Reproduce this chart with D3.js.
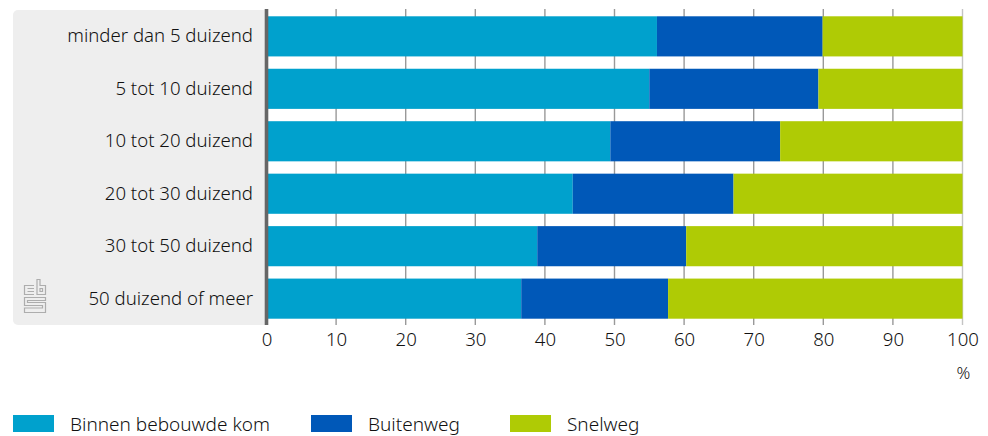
<!DOCTYPE html>
<html>
<head>
<meta charset="utf-8">
<script src="https://cdn.jsdelivr.net/npm/d3@7"></script>
<style>
  html, body { margin: 0; padding: 0; background: #fff; }
  svg { display: block; }
  text { font-family: "Noto Sans", sans-serif; font-weight: 350; fill: #111; }
</style>
</head>
<body>
<script>
const categories = ["minder dan 5 duizend", "5 tot 10 duizend", "10 tot 20 duizend", "20 tot 30 duizend", "30 tot 50 duizend", "50 duizend of meer"];
const seriesNames = ["Binnen bebouwde kom", "Buitenweg", "Snelweg"];
const binnen = [56.1, 55.0, 49.4, 44.0, 38.9, 36.6];
const buiten = [23.8, 24.3, 24.4, 23.1, 21.4, 21.1];
const snelweg = [20.1, 20.7, 26.2, 32.9, 39.7, 42.3];
const seriesColors = ["#00a1cd", "#0058b8", "#afcb05"];
const xTicks = [0, 10, 20, 30, 40, 50, 60, 70, 80, 90, 100];

const width = 988;
const height = 436;
const fontSize = 18.6;
const legendFontSize = 19;

const x = d3.scaleLinear().domain([0, 100]).range([266.5, 962.5]);
const y = d3.scaleBand().domain(categories).range([10, 325]).paddingInner(0.235).paddingOuter(0.12);

const svg = d3.select("body").append("svg")
  .attr("width", width)
  .attr("height", height)
  .attr("viewBox", `0 0 ${width} ${height}`);

// grey panel behind the category labels
svg.append("path")
  .attr("d", "M265 10H18a5 5 0 0 0 -5 5V320a5 5 0 0 0 5 5H265Z")
  .attr("fill", "#eeeeee");

// gridlines
svg.append("g")
  .selectAll("line")
  .data(xTicks.slice(1))
  .join("line")
  .attr("x1", d => x(d)).attr("x2", d => x(d))
  .attr("y1", 9).attr("y2", 325)
  .attr("stroke", d => d === 100 ? "#c4c4c4" : "#999999")
  .attr("stroke-width", 1.4);

// stacked bars
const rows = categories.map((c, i) => ({ category: c, binnen: binnen[i], buiten: buiten[i], snelweg: snelweg[i] }));
const stacked = d3.stack().keys(["binnen", "buiten", "snelweg"])(rows);

svg.append("g")
  .selectAll("g")
  .data(stacked)
  .join("g")
  .attr("fill", (d, i) => seriesColors[i])
  .selectAll("rect")
  .data(d => d)
  .join("rect")
  .attr("x", d => x(d[0]))
  .attr("y", d => y(d.data.category))
  .attr("width", d => x(d[1]) - x(d[0]))
  .attr("height", y.bandwidth());

// zero line
svg.append("line")
  .attr("x1", x(0)).attr("x2", x(0))
  .attr("y1", 9).attr("y2", 325)
  .attr("stroke", "#666666")
  .attr("stroke-width", 3.6);

// category labels
svg.append("g")
  .selectAll("text")
  .data(categories)
  .join("text")
  .attr("x", 253)
  .attr("y", d => y(d) + y.bandwidth() / 2)
  .attr("dy", "0.33em")
  .attr("text-anchor", "end")
  .attr("font-size", fontSize)
  .text(d => d);

// value axis labels
const xAxis = svg.append("g")
  .attr("transform", "translate(0,325)")
  .call(d3.axisBottom(x).tickValues(xTicks).tickSize(0).tickPadding(8));
xAxis.select(".domain").remove();
xAxis.selectAll("text").attr("font-size", fontSize).style("font-family", null);

svg.append("text")
  .attr("x", 963.5)
  .attr("y", 379)
  .attr("text-anchor", "middle")
  .attr("font-size", 17)
  .text("%");

// legend
const legendX = [13, 311, 510];
const legend = svg.append("g")
  .selectAll("g")
  .data(seriesNames)
  .join("g")
  .attr("transform", (d, i) => `translate(${legendX[i]},415)`);

legend.append("rect")
  .attr("width", 41)
  .attr("height", 17)
  .attr("fill", (d, i) => seriesColors[i]);

legend.append("text")
  .attr("x", 57)
  .attr("y", 9)
  .attr("dy", "0.35em")
  .attr("font-size", legendFontSize)
  .text(d => d);

// cbs logo
const logo = svg.append("g")
  .attr("transform", "translate(24,279)")
  .attr("fill", "none")
  .attr("stroke", "#adadad")
  .attr("stroke-width", 1.2);
logo.append("path").attr("d", "M10 6.5H0.5V15.5H10M3.5 9.5H10M3.5 12.5H10");
logo.append("path").attr("d", "M13 0.5H16V6.5H21.5V15.5H13ZM16 9.5H18.5V12.5H16Z");
logo.append("path").attr("d", "M21.5 18.5H0.5V26.5H18.5V29H0.5V33.5H21.5V23.5H3.5V21.5H21.5Z");
</script>
</body>
</html>
